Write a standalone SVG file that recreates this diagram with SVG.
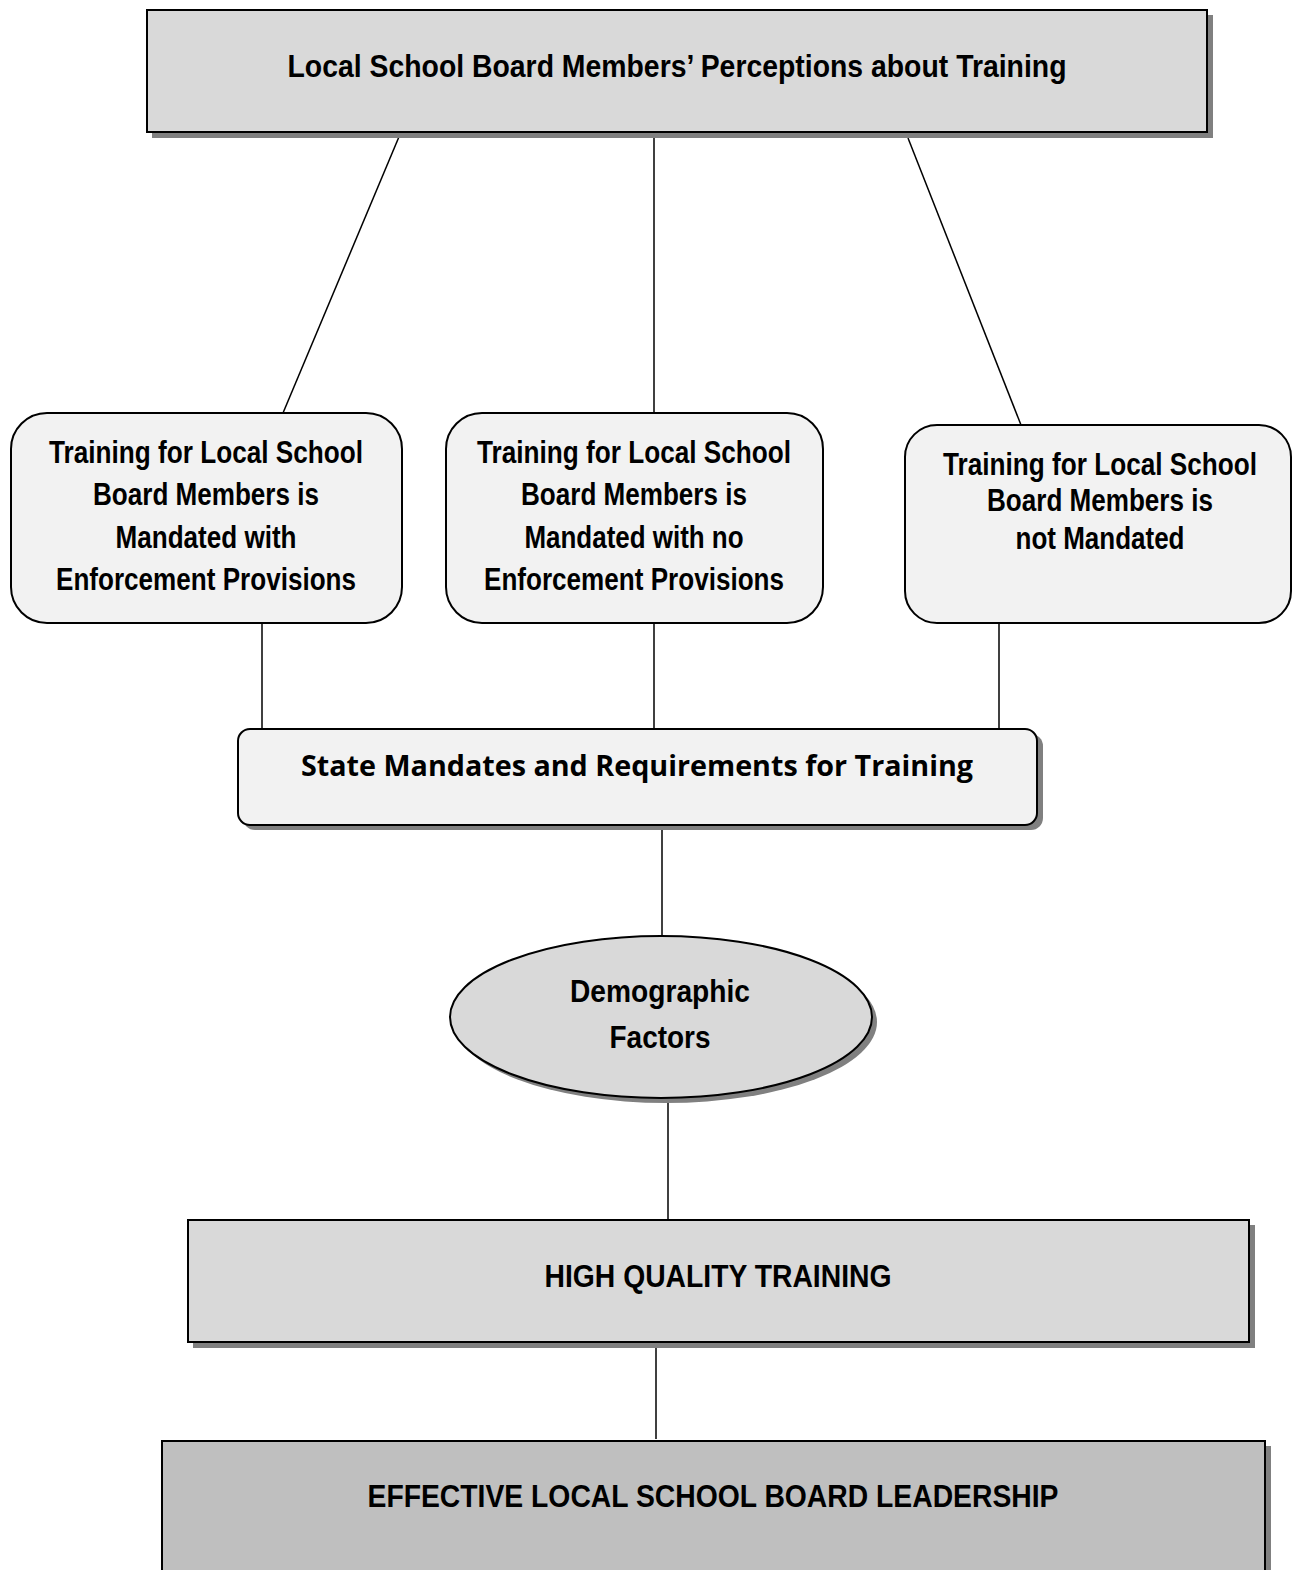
<svg xmlns="http://www.w3.org/2000/svg" width="1294" height="1570" viewBox="0 0 1294 1570">
<style>
.t{font-family:"Liberation Sans",Arial,sans-serif;font-weight:bold;fill:#000;text-anchor:middle}
.c{font-family:"Open Sans","Liberation Sans",sans-serif;font-weight:bold;fill:#000;text-anchor:middle}
.sh{fill:#808080}
.box{stroke:#000;stroke-width:2}
.ln{stroke:#000;stroke-width:1.5;fill:none}
</style>
<rect width="1294" height="1570" fill="#fff"/>
<g id="connectors">
<line class="ln" x1="401" y1="132" x2="283" y2="413"/>
<line class="ln" x1="654" y1="132" x2="654" y2="413"/>
<line class="ln" x1="908" y1="138" x2="1021" y2="425"/>
<line class="ln" x1="262" y1="623" x2="262" y2="729"/>
<line class="ln" x1="654" y1="623" x2="654" y2="730"/>
<line class="ln" x1="999" y1="623" x2="999" y2="732"/>
<line class="ln" x1="662" y1="825" x2="662" y2="936"/>
<line class="ln" x1="668" y1="1100" x2="668" y2="1220"/>
<line class="ln" x1="656" y1="1343" x2="656" y2="1439"/>
</g>
<g id="top">
<rect class="sh" x="152" y="15" width="1061" height="123"/>
<rect class="box" x="147" y="10" width="1060" height="122" fill="#d9d9d9"/>
<text class="t" x="677" y="77" font-size="32" textLength="779" lengthAdjust="spacingAndGlyphs">Local School Board Members’ Perceptions about Training</text>
</g>
<g id="opt1">
<rect class="box" x="11" y="413" width="391" height="210" rx="36" fill="#f2f2f2"/>
<text class="t" x="206" y="463" font-size="31" textLength="314" lengthAdjust="spacingAndGlyphs">Training for Local School</text>
<text class="t" x="206" y="505" font-size="31" textLength="226" lengthAdjust="spacingAndGlyphs">Board Members is</text>
<text class="t" x="206" y="548" font-size="31" textLength="181" lengthAdjust="spacingAndGlyphs">Mandated with</text>
<text class="t" x="206" y="590" font-size="31" textLength="300" lengthAdjust="spacingAndGlyphs">Enforcement Provisions</text>
</g>
<g id="opt2">
<rect class="box" x="446" y="413" width="377" height="210" rx="36" fill="#f2f2f2"/>
<text class="t" x="634" y="463" font-size="31" textLength="314" lengthAdjust="spacingAndGlyphs">Training for Local School</text>
<text class="t" x="634" y="505" font-size="31" textLength="226" lengthAdjust="spacingAndGlyphs">Board Members is</text>
<text class="t" x="634" y="548" font-size="31" textLength="219" lengthAdjust="spacingAndGlyphs">Mandated with no</text>
<text class="t" x="634" y="590" font-size="31" textLength="300" lengthAdjust="spacingAndGlyphs">Enforcement Provisions</text>
</g>
<g id="opt3">
<rect class="box" x="905" y="425" width="386" height="198" rx="32" fill="#f2f2f2"/>
<text class="t" x="1100" y="475" font-size="31" textLength="314" lengthAdjust="spacingAndGlyphs">Training for Local School</text>
<text class="t" x="1100" y="511" font-size="31" textLength="226" lengthAdjust="spacingAndGlyphs">Board Members is</text>
<text class="t" x="1100" y="549" font-size="31" textLength="169" lengthAdjust="spacingAndGlyphs">not Mandated</text>
</g>
<g id="state">
<rect class="sh" x="243" y="734" width="800" height="96" rx="12"/>
<rect class="box" x="238" y="729" width="799" height="96" rx="12" fill="#f2f2f2"/>
<text class="c" x="637" y="776" font-size="29" textLength="672" lengthAdjust="spacingAndGlyphs">State Mandates and Requirements for Training</text>
</g>
<g id="demo">
<ellipse class="sh" cx="666" cy="1022" rx="211" ry="81"/>
<ellipse class="box" cx="661" cy="1017" rx="211" ry="81" fill="#d9d9d9"/>
<text class="t" x="660" y="1002" font-size="32" textLength="180" lengthAdjust="spacingAndGlyphs">Demographic</text>
<text class="t" x="660" y="1048" font-size="32" textLength="101" lengthAdjust="spacingAndGlyphs">Factors</text>
</g>
<g id="hqt">
<rect class="sh" x="193" y="1225" width="1062" height="123"/>
<rect class="box" x="188" y="1220" width="1061" height="122" fill="#d9d9d9"/>
<text class="t" x="718" y="1287" font-size="32" textLength="347" lengthAdjust="spacingAndGlyphs">HIGH QUALITY TRAINING</text>
</g>
<g id="effective">
<rect class="sh" x="167" y="1446" width="1104" height="130"/>
<rect class="box" x="162" y="1441" width="1103" height="135" fill="#bfbfbf"/>
<text class="t" x="713" y="1507" font-size="32" textLength="691" lengthAdjust="spacingAndGlyphs">EFFECTIVE LOCAL SCHOOL BOARD LEADERSHIP</text>
</g>
</svg>
